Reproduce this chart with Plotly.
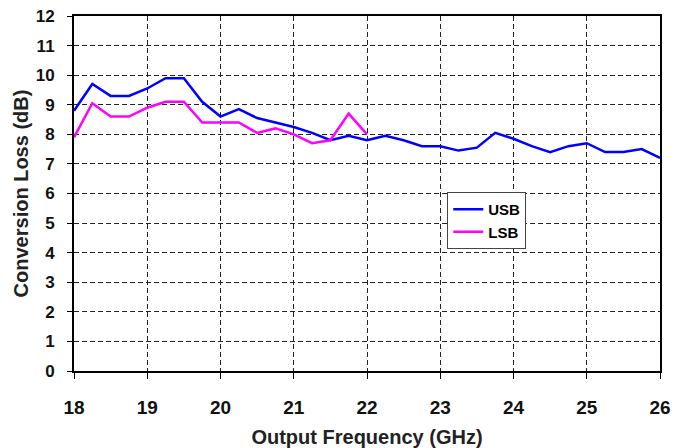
import plotly.graph_objects as go

usb_freq = [18.0, 18.25, 18.5, 18.75, 19.0, 19.25, 19.5, 19.75, 20.0, 20.25, 20.5, 20.75,
            21.0, 21.25, 21.5, 21.75, 22.0, 22.25, 22.5, 22.75, 23.0, 23.25, 23.5, 23.75,
            24.0, 24.25, 24.5, 24.75, 25.0, 25.25, 25.5, 25.75, 26.0]
usb_loss = [8.8, 9.7, 9.3, 9.3, 9.55, 9.9, 9.9, 9.1, 8.6, 8.85, 8.55, 8.4,
            8.25, 8.05, 7.8, 7.95, 7.8, 7.95, 7.8, 7.6, 7.6, 7.45, 7.55, 8.05,
            7.85, 7.6, 7.4, 7.6, 7.7, 7.4, 7.4, 7.5, 7.2]

lsb_freq = [18.0, 18.25, 18.5, 18.75, 19.0, 19.25, 19.5, 19.75, 20.0, 20.25, 20.5, 20.75,
            21.0, 21.25, 21.5, 21.75, 22.0]
lsb_loss = [7.9, 9.05, 8.6, 8.6, 8.9, 9.1, 9.1, 8.4, 8.4, 8.4, 8.05, 8.2,
            8.0, 7.7, 7.8, 8.7, 8.0]

x_ticks = [18, 19, 20, 21, 22, 23, 24, 25, 26]
y_ticks = list(range(0, 13))

font_fam = "Liberation Sans, Arial, sans-serif"

fig = go.Figure()
fig.add_trace(go.Scatter(x=usb_freq, y=usb_loss, mode="lines", name="USB",
                         line=dict(color="#0000FF", width=2.5)))
fig.add_trace(go.Scatter(x=lsb_freq, y=lsb_loss, mode="lines", name="LSB",
                         line=dict(color="#FF00FF", width=2.5)))

fig.update_layout(
    width=674, height=448,
    margin=dict(l=74, r=14, t=16, b=77, autoexpand=False),
    paper_bgcolor="white", plot_bgcolor="white",
    font=dict(family=font_fam, color="#111111"),
    showlegend=True,
    legend=dict(x=0.637, y=0.504, xanchor="left", yanchor="top",
                bgcolor="white", bordercolor="#444444", borderwidth=1,
                font=dict(size=15, family=font_fam, color="#000000", weight="bold"),
                tracegroupgap=0, itemwidth=30),
    annotations=[dict(text="Conversion Loss @ +25 °C, typ", xref="paper", yref="paper",
                      x=0.47, y=1.036, xanchor="center", yanchor="bottom",
                      showarrow=False, font=dict(size=17, color="#222222",
                                                 family="Noto Sans, sans-serif"))],
)

fig.update_xaxes(range=[18, 26], tickvals=x_ticks, ticktext=[str(v) for v in x_ticks],
                 showline=True, linecolor="black", linewidth=2, mirror=True,
                 showgrid=True, gridcolor="#222222", griddash="5px,3px", gridwidth=1,
                 ticks="outside", ticklen=6, tickcolor="black", automargin=False,
                 ticklabelstandoff=12,
                 tickfont=dict(size=19, family=font_fam, weight="bold", color="#111111"),
                 title=dict(text="Output Frequency (GHz)", standoff=18,
                            font=dict(size=20, family=font_fam, weight="bold", color="#222222")),
                 zeroline=False)
fig.update_yaxes(range=[0, 12], tickvals=y_ticks, ticktext=[str(v) for v in y_ticks],
                 showline=True, linecolor="black", linewidth=2, mirror=True,
                 showgrid=True, gridcolor="#222222", griddash="5px,3px", gridwidth=1,
                 ticks="outside", ticklen=5, tickcolor="black", automargin=False,
                 ticklabelstandoff=9,
                 tickfont=dict(size=17, family=font_fam, weight="bold", color="#111111"),
                 title=dict(text="Conversion Loss (dB)", standoff=2,
                            font=dict(size=20, family=font_fam, weight="bold", color="#222222")),
                 zeroline=False)

fig.write_html("out.html", config={"displayModeBar": False},
               post_script="document.body.style.margin='0';")
